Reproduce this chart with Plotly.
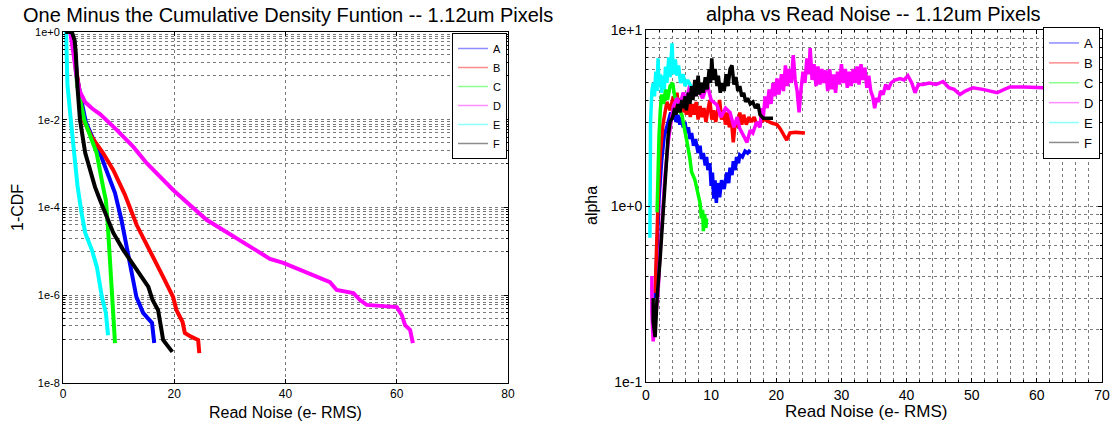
import plotly.graph_objects as go

names = ["A", "B", "C", "D", "E", "F"]
colors = ["#0000ff", "#ff0000", "#00ff00", "#ff00ff", "#00ffff", "#000000"]
legend_colors = ["#8c8cff", "#ff8c8c", "#8cff8c", "#ff8cff", "#8cffff", "#8c8c8c"]

# ---- Left panel: read noise vs log10(1-CDF) ----
cdf_A_x = [0.5, 1.5, 2.1, 2.5, 3.4, 4.1, 5.3, 6.65, 7.8, 9.35, 10.5, 11.5, 12.3, 13.2, 14.4, 16.0, 16.4]
cdf_A_log = [0, 0, -0.4, -1.0, -1.62, -2.05, -2.4, -2.76, -3.15, -3.67, -4.28, -4.97, -5.49, -6.04, -6.40, -6.63, -7.09]

cdf_B_x = [0.5, 1.5, 2.0, 2.9, 3.65, 5.15, 7.2, 9.05, 11.1, 13.25, 15.6, 18.0, 19.8, 20.4, 21.5, 21.9, 23.1, 24.3, 24.5]
cdf_B_log = [0, 0, -0.5, -1.25, -2.0, -2.39, -2.76, -3.15, -3.7, -4.4, -4.97, -5.58, -6.04, -6.34, -6.61, -6.86, -6.95, -7.02, -7.32]

cdf_C_x = [0.5, 1.5, 2.0, 2.6, 3.8, 5.0, 6.05, 7.2, 7.7, 8.0, 8.15, 8.6, 8.9, 9.35]
cdf_C_log = [0, 0, -0.5, -1.25, -2.0, -2.4, -2.76, -3.53, -3.83, -4.28, -4.58, -5.36, -6.11, -7.09]

cdf_D_x = [0.5, 1.3, 1.9, 2.4, 3.0, 4.0, 5.3, 6.65, 9.65, 12.65, 15.05, 19.8, 25.8, 31.8, 37.2, 39.6, 42.6,
           45.0, 48.0, 49.2, 52.2, 53.4, 54.6, 60.0, 60.9, 61.5, 62.4, 62.9]
cdf_D_log = [0, 0, -0.5, -1.0, -1.35, -1.6, -1.75, -1.87, -2.23, -2.62, -2.99, -3.6, -4.28, -4.74, -5.17, -5.26, -5.42,
             -5.54, -5.70, -5.88, -5.95, -6.11, -6.22, -6.27, -6.45, -6.68, -6.79, -7.09]

cdf_E_x = [0.55, 0.6, 0.8, 1.4, 2.0, 2.6, 3.3, 4.0, 5.2, 6.1, 7.0, 7.7, 8.1]
cdf_E_log = [0, -0.5, -1.2, -2.0, -2.76, -3.5, -4.1, -4.58, -4.97, -5.36, -6.04, -6.40, -6.91]

cdf_F_x = [0.4, 1.6, 2.1, 2.3, 2.6, 3.05, 4.0, 5.75, 6.65, 8.1, 9.05, 10.85, 12.95, 15.35, 16.1, 17.1, 17.7, 18.0, 19.65]
cdf_F_log = [0, 0, -0.2, -0.48, -1.25, -2.0, -2.76, -3.53, -3.83, -4.28, -4.58, -4.97, -5.36, -5.81, -6.11, -6.34, -6.79, -7.02, -7.29]

# ---- Right panel: alpha vs read noise ----
alpha_A_x = [1.4, 1.7, 2.0, 2.4, 2.8, 3.4, 3.8, 4.1, 4.4, 4.6, 4.9, 5.2, 5.5, 5.7, 6.0, 6.2, 6.5, 6.75, 7.0, 7.3,
             7.6, 8.0, 8.3, 8.5, 8.8, 9.1, 9.3, 9.5, 9.8, 10.0, 10.2, 10.4, 10.6, 10.8, 11.0, 11.3, 11.6, 12.0,
             12.4, 12.7, 12.9, 13.2, 13.4, 13.7, 13.9, 14.2, 14.4, 14.8, 15.2, 15.6, 16.0]
alpha_A = [0.30, 0.6, 1.1, 1.8, 2.5, 3.0, 3.4, 3.1, 3.4, 3.0, 3.3, 2.9, 3.2, 2.8, 3.0, 2.6, 2.8, 2.4, 2.6, 2.2,
           2.4, 2.0, 2.2, 1.85, 2.0, 1.7, 1.9, 1.6, 1.75, 1.3, 1.55, 1.1, 1.4, 1.04, 1.35, 1.12, 1.4, 1.25,
           1.55, 1.35, 1.65, 1.5, 1.8, 1.6, 1.9, 1.75, 1.95, 1.9, 2.05, 2.0, 2.08]

alpha_B_x = [1.4, 1.6, 1.9, 2.2, 2.6, 3.2, 3.7, 4.2, 4.5, 4.75, 5.0, 5.3, 5.6, 5.9, 6.2, 6.5, 6.8, 7.1, 7.4, 7.7,
             8.0, 8.3, 8.6, 8.9, 9.2, 9.5, 9.8, 10.1, 10.4, 10.7, 11.0, 11.3, 11.6, 11.9, 12.2, 12.5, 12.8, 13.1,
             13.4, 13.7, 14.0, 14.4, 14.7, 15.0, 15.4, 15.8, 16.2, 16.6, 17.0, 17.5, 18.2, 19.3, 20.1, 20.6,
             21.0, 21.3, 21.6, 22.1, 23.0, 24.4]
alpha_B = [0.32, 0.6, 1.2, 2.0, 2.9, 3.9, 3.5, 4.2, 3.6, 4.4, 3.5, 4.1, 3.4, 4.0, 3.3, 3.9, 3.2, 3.8, 3.3, 3.9,
           3.1, 3.7, 3.2, 3.6, 3.0, 3.5, 4.0, 3.1, 3.5, 3.0, 3.6, 4.0, 3.1, 3.5, 2.9, 3.4, 2.8, 3.1,
           2.3, 3.0, 2.8, 3.4, 2.9, 3.3, 2.9, 3.2, 3.0, 3.2, 2.9, 3.0, 3.1, 2.96, 2.9, 2.75,
           2.6, 2.45, 2.37, 2.6, 2.62, 2.6]

alpha_C_x = [1.7, 1.8, 2.0, 2.2, 2.4, 2.7, 3.0, 3.3, 3.7, 4.1, 4.4, 4.8, 5.1, 5.5, 5.9, 6.3, 6.7, 7.0, 7.5, 7.9,
             8.3, 8.5, 8.7, 8.8, 9.0, 9.2, 9.3]
alpha_C = [0.92, 1.5, 2.5, 3.5, 4.3, 3.8, 4.6, 4.0, 4.8, 5.0, 4.2, 3.9, 3.5, 3.3, 2.8, 2.3, 1.9, 1.56, 1.41, 1.2,
           1.04, 0.85, 0.95, 0.72, 0.9, 0.75, 0.85]

alpha_D_x = [0.9, 0.9, 1.1, 1.4, 1.85, 2.1, 2.4, 2.9, 3.4, 3.8, 4.2, 4.75, 5.2, 5.7, 6.2, 6.75, 7.3, 8.0, 8.7, 9.4,
             10.0, 10.9, 11.5, 12.2, 12.9, 13.5, 14.0, 14.4, 15.0, 15.5, 16.0, 16.4, 17.0, 17.5, 17.8, 18.0,
             18.3, 18.6, 18.9, 19.2, 19.5, 19.8, 20.1, 20.4, 20.8, 21.1, 21.4, 21.7, 22.0, 22.3, 22.6, 22.9,
             23.2, 23.5, 23.8, 24.1, 24.4, 24.7, 25.0, 25.2, 25.5, 25.8, 26.1, 26.4, 26.7, 27.0, 27.3, 27.6,
             27.9, 28.2, 28.5, 28.8, 29.1, 29.4, 29.7, 30.0, 30.3, 30.6, 30.9, 31.2, 31.5, 31.8, 32.1, 32.4,
             32.7, 33.0, 33.3, 33.6, 33.9, 34.2, 34.5, 34.8, 35.1, 35.4, 35.7, 36.0, 36.4, 36.8, 37.2, 37.6,
             38.2, 39.0, 39.6, 40.2, 40.8, 41.3, 41.8, 42.5, 43.5, 44.5, 45.6, 46.5, 47.3, 48.2, 49.0, 50.2,
             51.7, 52.8, 53.9, 55.0, 55.9, 58.0, 60.0, 61.0, 62.0, 62.8]
alpha_D = [0.40, 0.25, 0.17, 0.22, 0.32, 0.5, 0.76, 1.46, 2.3, 3.0, 3.7, 4.1, 3.7, 4.4, 4.0, 4.9, 4.2, 4.6, 4.1, 4.9,
           4.0, 3.75, 3.2, 3.6, 3.4, 2.8, 3.2, 2.75, 2.5, 2.3, 2.7, 2.6, 3.0, 2.8, 3.6, 3.2,
           4.2, 3.6, 4.6, 3.8, 5.0, 4.2, 5.3, 4.3, 5.6, 4.5, 6.3, 4.8, 6.0, 5.0, 7.2, 5.2,
           4.5, 3.4, 4.6, 5.8, 5.0, 6.9, 5.6, 7.9, 5.2, 6.4, 4.8, 6.2, 4.9, 6.0, 5.0, 5.9,
           4.5, 6.0, 4.6, 5.6, 4.4, 5.8, 4.9, 6.4, 5.0, 6.0, 4.7, 5.8, 4.8, 6.0, 5.0, 6.2,
           4.9, 6.4, 5.2, 6.1, 4.7, 5.5, 4.5, 4.2, 3.6, 4.1, 3.9, 4.5, 4.3, 4.9, 4.6, 5.0,
           5.2, 5.3, 5.2, 5.5, 5.0, 4.4, 4.9, 4.9, 5.0, 4.9, 5.1, 4.7, 4.6, 4.3, 4.5, 4.7,
           4.6, 4.5, 4.4, 4.6, 4.75, 4.75, 4.75, 4.7, 4.5, 4.4]

alpha_E_x = [0.6, 0.6, 0.7, 0.9, 1.1, 1.3, 1.5, 1.7, 1.85, 2.0, 2.2, 2.4, 2.6, 2.8, 3.0, 3.2, 3.5, 3.7, 4.0, 4.2,
             4.5, 4.75, 5.0, 5.3, 5.7, 6.0, 6.4, 7.0]
alpha_E = [0.66, 1.5, 3.0, 4.5, 5.0, 4.2, 5.8, 4.5, 6.9, 4.8, 5.6, 4.4, 5.5, 4.6, 6.2, 5.0, 7.0, 5.4, 8.4, 5.6,
           6.8, 5.5, 6.3, 5.0, 5.6, 4.8, 5.2, 4.7]

alpha_F_x = [1.1, 1.1, 1.4, 1.7, 2.15, 2.5, 2.9, 3.4, 3.7, 4.1, 4.4, 4.6, 4.9, 5.2, 5.5, 5.7, 6.0, 6.2, 6.5, 6.75,
             7.0, 7.2, 7.5, 7.7, 8.0, 8.2, 8.5, 8.8, 9.1, 9.4, 9.7, 9.9, 10.1, 10.3, 10.6, 10.9, 11.1, 11.4,
             11.7, 12.0, 12.3, 12.6, 12.9, 13.2, 13.5, 13.8, 14.1, 14.4, 14.7, 15.0, 15.3, 15.6, 16.0, 16.4,
             16.8, 17.2, 17.5, 18.0, 18.6, 19.5]
alpha_F = [0.30, 0.22, 0.18, 0.3, 0.49, 0.8, 1.19, 2.5, 3.0, 3.2, 3.6, 3.3, 3.8, 3.4, 4.0, 3.6, 4.2, 3.5, 4.4, 3.8,
           4.8, 4.0, 5.2, 4.2, 5.5, 4.3, 5.0, 4.4, 5.4, 4.6, 6.0, 5.0, 6.9, 5.2, 6.0, 4.8, 5.5, 4.4,
           5.0, 4.5, 5.6, 4.8, 6.0, 6.3, 4.9, 5.4, 4.5, 4.8, 4.2, 4.4, 3.9, 4.1, 3.8, 3.9,
           3.6, 3.8, 3.3, 3.15, 3.15, 3.15]

left_major_vals = [1, 1e-2, 1e-4, 1e-6, 1e-8]
left_major_text = ["1e+0", "1e-2", "1e-4", "1e-6", "1e-8"]
right_major_vals = [0.1, 1, 10]
right_major_text = ["1e-1", "1e+0", "1e+1"]

cdf_x = [cdf_A_x, cdf_B_x, cdf_C_x, cdf_D_x, cdf_E_x, cdf_F_x]
cdf_log = [cdf_A_log, cdf_B_log, cdf_C_log, cdf_D_log, cdf_E_log, cdf_F_log]
al_x = [alpha_A_x, alpha_B_x, alpha_C_x, alpha_D_x, alpha_E_x, alpha_F_x]
al_y = [alpha_A, alpha_B, alpha_C, alpha_D, alpha_E, alpha_F]

W, H = 1115, 428
FONT = "Liberation Sans, Arial, Helvetica, sans-serif"

def px(x):
    return x / W

def py(y):
    return 1 - y / H

fig = go.Figure()

for i, n in enumerate(names):
    fig.add_trace(go.Scatter(
        x=cdf_x[i], y=[10 ** v for v in cdf_log[i]], mode="lines",
        line=dict(color=colors[i], width=4), showlegend=False,
        xaxis="x", yaxis="y", name=n))
for i, n in enumerate(names):
    fig.add_trace(go.Scatter(
        x=[None], y=[None], mode="lines", line=dict(color=legend_colors[i], width=1.5),
        name=n, legend="legend", xaxis="x", yaxis="y"))

for i, n in enumerate(names):
    fig.add_trace(go.Scatter(
        x=al_x[i], y=al_y[i], mode="lines",
        line=dict(color=colors[i], width=3.5), showlegend=False,
        xaxis="x2", yaxis="y2", name=n))
for i, n in enumerate(names):
    fig.add_trace(go.Scatter(
        x=[None], y=[None], mode="lines", line=dict(color=legend_colors[i], width=1.5),
        name=n, legend="legend2", xaxis="x2", yaxis="y2"))

grid = dict(showgrid=True, gridcolor="#7a7a7a", griddash="dot", gridwidth=1)
axis_common = dict(showline=True, linecolor="black", linewidth=1, mirror="allticks",
                   ticks="inside", ticklen=4, tickcolor="black", zeroline=False, **grid)

def tf(size):
    return dict(family=FONT, size=size, color="black")

left_minor = [k * 10.0 ** e for e in (-1, -3, -5, -7) for k in range(1, 10)]
right_minor = [k * 10.0 ** e for e in (-1, 0) for k in range(2, 10)]

fig.update_layout(
    width=W, height=H, plot_bgcolor="white", paper_bgcolor="white",
    margin=dict(l=0, r=0, t=0, b=0, autoexpand=False),
    font=dict(family=FONT, color="black"),
    xaxis=dict(domain=[px(63), px(508)], range=[0, 80], dtick=20, anchor="y", tickfont=tf(12), **axis_common),
    yaxis=dict(domain=[py(383), py(32)], type="log", range=[-8, 0], anchor="x",
               tickmode="array", tickvals=left_major_vals, ticktext=left_major_text, tickfont=tf(11),
               minor=dict(tickvals=left_minor, ticks="inside", ticklen=2, tickcolor="black", **grid),
               **axis_common),
    xaxis2=dict(domain=[px(646), px(1102)], range=[0, 70], dtick=10, anchor="y2", tickfont=tf(14),
                minor=dict(dtick=2, ticks="inside", ticklen=2, tickcolor="black", **grid),
                **axis_common),
    yaxis2=dict(domain=[py(382), py(30)], type="log", range=[-1, 1], anchor="x2",
                tickmode="array", tickvals=right_major_vals, ticktext=right_major_text, tickfont=tf(14),
                minor=dict(tickvals=right_minor, ticks="inside", ticklen=2, tickcolor="black", **grid),
                **axis_common),
    legend=dict(x=px(507), y=py(33), xanchor="right", yanchor="top", bgcolor="white",
                bordercolor="black", borderwidth=1, font=tf(11),
                itemwidth=30, tracegroupgap=0),
    legend2=dict(x=px(1100), y=py(27), xanchor="right", yanchor="top", bgcolor="white",
                 bordercolor="black", borderwidth=1, font=tf(13),
                 itemwidth=30, tracegroupgap=0),
    showlegend=True,
)

ann = [
    dict(text="One Minus the Cumulative Density Funtion -- 1.12um Pixels", x=px(288), y=py(15), size=20, angle=0),
    dict(text="alpha vs Read Noise -- 1.12um Pixels", x=px(873), y=py(14), size=20, angle=0),
    dict(text="Read Noise (e- RMS)", x=px(285), y=py(412), size=16, angle=0),
    dict(text="Read Noise (e- RMS)", x=px(866), y=py(411), size=17, angle=0),
    dict(text="1-CDF", x=px(17), y=py(208), size=16, angle=-90),
    dict(text="alpha", x=px(591), y=py(206), size=16, angle=-90),
]
for a in ann:
    fig.add_annotation(text=a["text"], x=a["x"], y=a["y"], xref="paper", yref="paper",
                       xanchor="center", yanchor="middle", showarrow=False, textangle=a["angle"],
                       font=tf(a["size"]))

# remove the browser's default 8px page margin so the figure fills the window exactly
fig.write_html("out.html", config={"displayModeBar": False},
               post_script="document.body.style.margin='0';document.body.style.overflow='hidden';")
